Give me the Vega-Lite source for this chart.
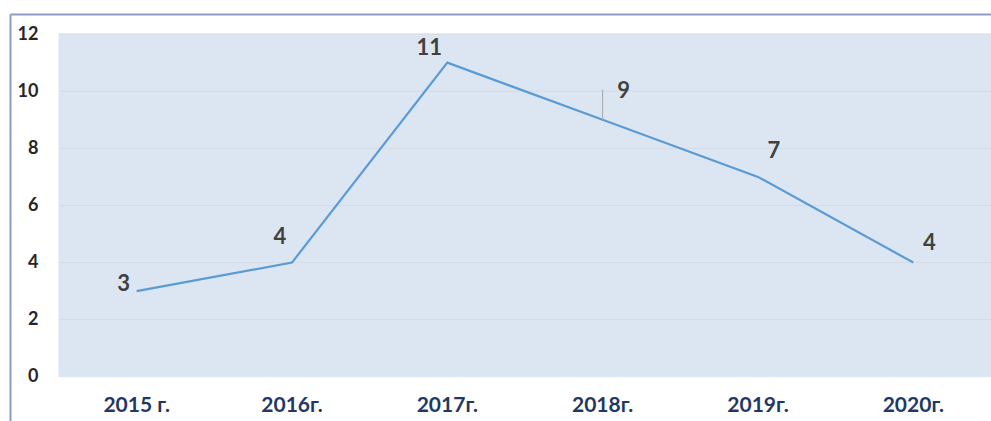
{
  "$schema": "https://vega.github.io/schema/vega-lite/v6.json",
  "width": 981,
  "height": 407,
  "autosize": {"type": "none"},
  "padding": {"left": 10, "top": 14, "right": 0, "bottom": 0},
  "background": "white",
  "config": {"view": {"stroke": null}, "axis": {"grid": false}},
  "datasets": {
    "main": [
      {"year": "2015 г.", "value": 3},
      {"year": "2016г.", "value": 4},
      {"year": "2017г.", "value": 11},
      {"year": "2018г.", "value": 9},
      {"year": "2019г.", "value": 7},
      {"year": "2020г.", "value": 4}
    ],
    "grid": [{"g": 2}, {"g": 4}, {"g": 6}, {"g": 8}, {"g": 10}, {"g": 12}]
  },
  "data": {"name": "main"},
  "resolve": {"axis": {"x": "independent", "y": "independent"}},
  "layer": [
    {
      "mark": {"type": "rect", "fill": "#dce6f2", "stroke": "#dce6f2", "strokeWidth": 1},
      "encoding": {
        "x": {
          "field": "year", "type": "nominal", "sort": null,
          "scale": {"type": "band", "paddingInner": 0, "paddingOuter": 0.1577, "align": 1},
          "axis": {"orient": "bottom", "title": null, "domain": false, "ticks": false, "labelAngle": 0, "labelPadding": -16, "labelBaseline": "middle", "labelFont": "Lato", "labelFontWeight": "bold", "labelFontSize": 21, "labelColor": "#1f3864"}
        },
        "y": {
          "datum": 12, "type": "quantitative",
          "scale": {"domain": [-1.548, 12.704], "nice": false, "zero": false},
          "axis": {"orient": "left", "title": null, "values": [0, 2, 4, 6, 8, 10, 12], "ticks": false, "domain": true, "domainColor": "#8e9bc4", "domainWidth": 2, "labelPadding": -28, "labelAlign": "right", "labelBaseline": "middle", "labelFont": "Lato", "labelFontWeight": "bold", "labelFontSize": 18, "labelColor": "#262626"}
        },
        "y2": {"datum": 0}
      }
    },
    {
      "data": {"name": "grid"},
      "mark": {"type": "rule", "stroke": "#d5dbe3", "strokeWidth": 1},
      "encoding": {
        "x": {"datum": "2015 г.", "type": "nominal", "bandPosition": 0, "axis": null},
        "x2": {"datum": "2020г.", "bandPosition": 1},
        "y": {"field": "g", "type": "quantitative", "axis": null}
      }
    },
    {
      "mark": {"type": "line", "stroke": "#5b9bd5", "strokeWidth": 2.2},
      "encoding": {
        "x": {"field": "year", "type": "nominal", "sort": null, "axis": {"orient": "top", "title": null, "labels": false, "ticks": false, "domain": true, "domainColor": "#8e9bc4", "domainWidth": 2}},
        "y": {"field": "value", "type": "quantitative", "axis": null}
      }
    },
    {
      "transform": [{"filter": "datum.year === '2018г.'"}],
      "mark": {"type": "rule", "stroke": "#a6a6a6", "strokeWidth": 1},
      "encoding": {
        "x": {"field": "year", "type": "nominal", "sort": null, "axis": null},
        "y": {"field": "value", "type": "quantitative", "axis": null},
        "y2": {"datum": 10.05}
      }
    },
    {
      "transform": [{"filter": "datum.year === '2015 г.'"}],
      "mark": {"type": "text", "dx": -13, "dy": -7, "font": "Lato", "fontWeight": "bold", "fontSize": 22, "fill": "#404040", "baseline": "middle"},
      "encoding": {"x": {"field": "year", "type": "nominal", "sort": null, "axis": null}, "y": {"field": "value", "type": "quantitative", "axis": null}, "text": {"field": "value", "type": "quantitative"}}
    },
    {
      "transform": [{"filter": "datum.year === '2016г.'"}],
      "mark": {"type": "text", "dx": -12, "dy": -26, "font": "Lato", "fontWeight": "bold", "fontSize": 22, "fill": "#404040", "baseline": "middle"},
      "encoding": {"x": {"field": "year", "type": "nominal", "sort": null, "axis": null}, "y": {"field": "value", "type": "quantitative", "axis": null}, "text": {"field": "value", "type": "quantitative"}}
    },
    {
      "transform": [{"filter": "datum.year === '2017г.'"}],
      "mark": {"type": "text", "dx": -18, "dy": -15, "font": "Lato", "fontWeight": "bold", "fontSize": 22, "fill": "#404040", "baseline": "middle"},
      "encoding": {"x": {"field": "year", "type": "nominal", "sort": null, "axis": null}, "y": {"field": "value", "type": "quantitative", "axis": null}, "text": {"field": "value", "type": "quantitative"}}
    },
    {
      "transform": [{"filter": "datum.year === '2018г.'"}],
      "mark": {"type": "text", "dx": 21, "dy": -29, "font": "Lato", "fontWeight": "bold", "fontSize": 22, "fill": "#404040", "baseline": "middle"},
      "encoding": {"x": {"field": "year", "type": "nominal", "sort": null, "axis": null}, "y": {"field": "value", "type": "quantitative", "axis": null}, "text": {"field": "value", "type": "quantitative"}}
    },
    {
      "transform": [{"filter": "datum.year === '2019г.'"}],
      "mark": {"type": "text", "dx": 16, "dy": -26, "font": "Lato", "fontWeight": "bold", "fontSize": 22, "fill": "#404040", "baseline": "middle"},
      "encoding": {"x": {"field": "year", "type": "nominal", "sort": null, "axis": null}, "y": {"field": "value", "type": "quantitative", "axis": null}, "text": {"field": "value", "type": "quantitative"}}
    },
    {
      "transform": [{"filter": "datum.year === '2020г.'"}],
      "mark": {"type": "text", "dx": 16, "dy": -20, "font": "Lato", "fontWeight": "bold", "fontSize": 22, "fill": "#404040", "baseline": "middle"},
      "encoding": {"x": {"field": "year", "type": "nominal", "sort": null, "axis": null}, "y": {"field": "value", "type": "quantitative", "axis": null}, "text": {"field": "value", "type": "quantitative"}}
    }
  ]
}
